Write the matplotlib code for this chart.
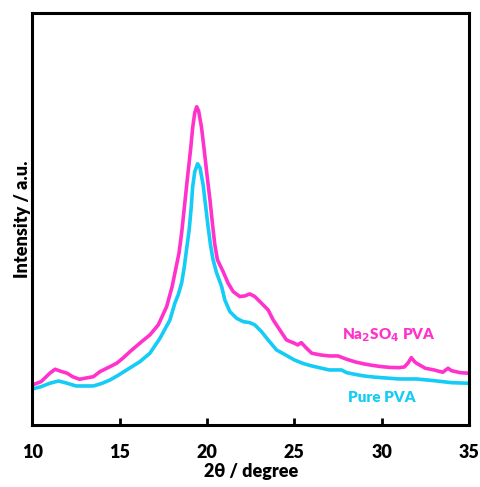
import matplotlib
matplotlib.use("Agg")
import matplotlib.pyplot as plt

# XRD patterns (2θ in degrees, intensity in arbitrary units, stacked)
two_theta_na = [10, 10.5, 11, 11.3, 11.7, 12, 12.3, 12.7, 13, 13.5, 13.87, 14.3, 14.83, 15.2,
                15.59, 16.26, 16.73, 17.21, 17.69, 18.0, 18.2, 18.4, 18.55, 18.75, 18.9, 19.06,
                19.18, 19.3, 19.41, 19.52, 19.69, 19.84, 20.0, 20.17, 20.32, 20.45, 20.6,
                20.93, 21.21, 21.5, 21.88, 22.17, 22.45, 22.74, 23.12, 23.5, 23.79, 24.17,
                24.55, 25, 25.2, 25.4, 25.7, 26, 26.5, 27, 27.5, 28, 28.5, 29, 29.5,
                30, 30.5, 31, 31.3, 31.5, 31.7, 31.9, 32, 32.5, 33, 33.5, 33.8, 34, 34.5, 35]
intensity_na = [40, 43.3, 51.7, 55.7, 53.3, 51.7, 48.3, 45.7, 46.7, 48.3, 53.3, 57, 61.7, 67,
                73.3, 83.3, 90, 100, 118.3, 138, 155, 172, 192, 225, 250, 275,
                297, 312, 318, 314, 297, 275, 250, 225, 200, 180, 165,
                153, 141.7, 133.3, 128.3, 129, 131, 128.3, 121.7, 115, 105, 95,
                85, 81.7, 80, 82.3, 76.7, 71.7, 70, 69, 69, 65.7, 63, 61, 59.5,
                58.3, 57.5, 57.3, 58, 61.7, 67.3, 63, 61.7, 56.7, 55, 52.7, 56.7, 54.3, 52.3, 51.7]

two_theta_pure = [10, 10.5, 11, 11.5, 12, 12.5, 13, 13.5, 14, 14.45, 14.9, 15.4, 16.16, 16.73,
                  17.31, 17.88, 18.16, 18.35, 18.55, 18.7, 18.85, 18.98, 19.1, 19.18, 19.3,
                  19.46, 19.6, 19.78, 19.9, 20.05, 20.2, 20.35, 20.55, 20.84, 21.02, 21.31,
                  21.69, 22.07, 22.45, 22.74, 23.12, 23.5, 23.98, 24.5, 25, 25.5, 26, 26.5,
                  27, 27.7, 28, 28.5, 29, 29.5, 30, 31, 32, 33, 34, 35]
intensity_pure = [36, 38.3, 41.7, 44, 41.7, 39, 39, 39, 41.7, 45, 49.5, 55, 63.3, 71.7,
                  86.7, 105, 121.7, 130, 142, 158, 178, 195, 218, 238, 253,
                  261, 257, 240, 222, 200, 180, 165, 152, 138.3, 125, 113.3,
                  106.7, 103.3, 102.3, 100, 93.3, 85, 75, 70, 65, 61.5, 59, 57,
                  55, 55, 52.3, 50.5, 49, 48, 47.3, 46, 46, 44.3, 42.3, 41.7]

x_ticks = [10, 15, 20, 25, 30, 35]

pink = "#FF33CC"
cyan = "#14CCF5"
font = ["Lato", "DejaVu Sans"]

fig = plt.figure(figsize=(4.81, 4.87), dpi=100)
ax = fig.add_axes([0.0672, 0.1273, 0.9078, 0.8467])

ax.plot(two_theta_na, intensity_na, color=pink, lw=2.6, solid_joinstyle="round")
ax.plot(two_theta_pure, intensity_pure, color=cyan, lw=2.6, solid_joinstyle="round")

ax.set_xlim(10, 35)
ax.set_ylim(0, 412)
ax.set_xticks(x_ticks)
ax.set_xticklabels([str(t) for t in x_ticks], fontsize=13, fontweight="heavy", family=font)
ax.set_yticks([])
ax.tick_params(axis="x", direction="in", length=5, width=2, pad=14, top=False)

for s in ax.spines.values():
    s.set_linewidth(2.2)
    s.set_color("black")

ax.set_xlabel("2θ / degree", fontsize=13, fontweight="heavy", family=font, labelpad=1)
ax.set_ylabel("Intensity / a.u.", fontsize=13, fontweight="heavy", family=font, labelpad=1)

ax.text(30.4, 90, r"Na$_\mathbf{2}$SO$_\mathbf{4}$ PVA", color=pink, fontsize=11,
        fontweight="heavy", family=font, ha="center", va="center")
ax.text(30.0, 27, "Pure PVA", color=cyan, fontsize=11,
        fontweight="heavy", family=font, ha="center", va="center")

fig.savefig("out.png", dpi=100)
